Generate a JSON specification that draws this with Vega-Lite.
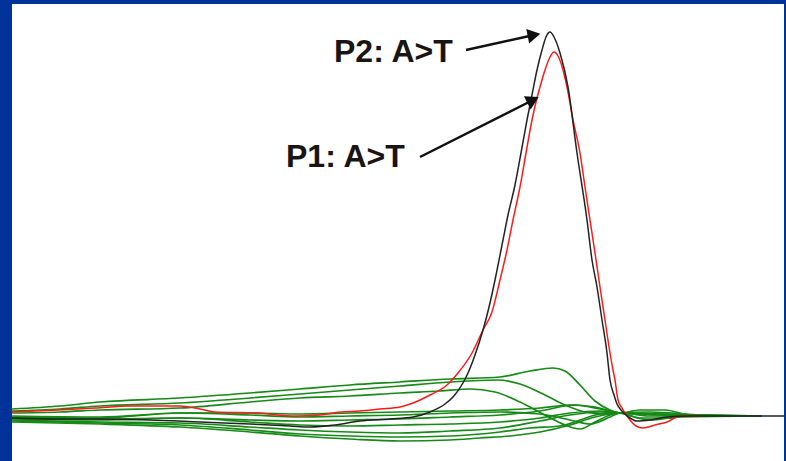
{
 "$schema": "https://vega.github.io/schema/vega-lite/v6.json",
 "width": 772,
 "height": 457,
 "autosize": {"type": "none"},
 "padding": {"left": 12, "top": 4, "right": 2, "bottom": 0},
 "background": "#003399",
 "config": {"view": {"fill": "white", "stroke": null}},
 "datasets": {
  "traces": [
   {"trace":"G1","x":12,"y":6},{"trace":"G1","x":60,"y":9},{"trace":"G1","x":100,"y":13},{"trace":"G1","x":180,"y":17},{"trace":"G1","x":250,"y":22},{"trace":"G1","x":300,"y":26},{"trace":"G1","x":350,"y":30},{"trace":"G1","x":400,"y":33},{"trace":"G1","x":450,"y":36},{"trace":"G1","x":500,"y":38},{"trace":"G1","x":530,"y":44},{"trace":"G1","x":553,"y":47},{"trace":"G1","x":565,"y":44},{"trace":"G1","x":580,"y":30},{"trace":"G1","x":595,"y":14},{"trace":"G1","x":610,"y":5},{"trace":"G1","x":620,"y":2},{"trace":"G1","x":640,"y":5},{"trace":"G1","x":665,"y":5},{"trace":"G1","x":690,"y":0},{"trace":"G1","x":762,"y":-1},
   {"trace":"G2","x":12,"y":4},{"trace":"G2","x":60,"y":6},{"trace":"G2","x":100,"y":9},{"trace":"G2","x":180,"y":12},{"trace":"G2","x":250,"y":17},{"trace":"G2","x":300,"y":21},{"trace":"G2","x":350,"y":25},{"trace":"G2","x":400,"y":29},{"trace":"G2","x":450,"y":33},{"trace":"G2","x":497,"y":35},{"trace":"G2","x":520,"y":31},{"trace":"G2","x":545,"y":20},{"trace":"G2","x":565,"y":10},{"trace":"G2","x":585,"y":3},{"trace":"G2","x":605,"y":1},{"trace":"G2","x":620,"y":2},{"trace":"G2","x":640,"y":-3},{"trace":"G2","x":670,"y":-3},{"trace":"G2","x":690,"y":0},{"trace":"G2","x":762,"y":-1},
   {"trace":"G3","x":12,"y":2},{"trace":"G3","x":60,"y":3},{"trace":"G3","x":100,"y":5},{"trace":"G3","x":180,"y":7},{"trace":"G3","x":250,"y":13},{"trace":"G3","x":300,"y":17},{"trace":"G3","x":350,"y":19},{"trace":"G3","x":400,"y":22},{"trace":"G3","x":440,"y":24},{"trace":"G3","x":470,"y":26},{"trace":"G3","x":495,"y":23},{"trace":"G3","x":520,"y":13},{"trace":"G3","x":545,"y":0},{"trace":"G3","x":565,"y":-10},{"trace":"G3","x":580,"y":-14},{"trace":"G3","x":595,"y":-7},{"trace":"G3","x":610,"y":0},{"trace":"G3","x":620,"y":2},{"trace":"G3","x":650,"y":-1},{"trace":"G3","x":762,"y":-1},
   {"trace":"G4","x":12,"y":-1},{"trace":"G4","x":100,"y":-2},{"trace":"G4","x":180,"y":2},{"trace":"G4","x":250,"y":2},{"trace":"G4","x":300,"y":1},{"trace":"G4","x":350,"y":2},{"trace":"G4","x":400,"y":3},{"trace":"G4","x":450,"y":4},{"trace":"G4","x":500,"y":5},{"trace":"G4","x":540,"y":7},{"trace":"G4","x":570,"y":10},{"trace":"G4","x":595,"y":8},{"trace":"G4","x":620,"y":2},{"trace":"G4","x":660,"y":1},{"trace":"G4","x":762,"y":-1},
   {"trace":"G5","x":12,"y":-2},{"trace":"G5","x":100,"y":-3},{"trace":"G5","x":180,"y":2},{"trace":"G5","x":250,"y":0},{"trace":"G5","x":300,"y":-2},{"trace":"G5","x":350,"y":-1},{"trace":"G5","x":400,"y":0},{"trace":"G5","x":450,"y":2},{"trace":"G5","x":500,"y":3},{"trace":"G5","x":540,"y":1},{"trace":"G5","x":570,"y":-5},{"trace":"G5","x":590,"y":-9},{"trace":"G5","x":610,"y":-2},{"trace":"G5","x":620,"y":2},{"trace":"G5","x":650,"y":3},{"trace":"G5","x":700,"y":0},{"trace":"G5","x":762,"y":-1},
   {"trace":"G6","x":12,"y":-3},{"trace":"G6","x":100,"y":-4},{"trace":"G6","x":180,"y":-3},{"trace":"G6","x":250,"y":-5},{"trace":"G6","x":300,"y":-6},{"trace":"G6","x":350,"y":-5},{"trace":"G6","x":400,"y":-4},{"trace":"G6","x":450,"y":-2},{"trace":"G6","x":500,"y":0},{"trace":"G6","x":540,"y":4},{"trace":"G6","x":575,"y":10},{"trace":"G6","x":600,"y":6},{"trace":"G6","x":620,"y":2},{"trace":"G6","x":650,"y":-5},{"trace":"G6","x":680,"y":-2},{"trace":"G6","x":762,"y":-1},
   {"trace":"G7","x":12,"y":-4},{"trace":"G7","x":100,"y":-5},{"trace":"G7","x":180,"y":-3},{"trace":"G7","x":250,"y":-7},{"trace":"G7","x":300,"y":-10},{"trace":"G7","x":350,"y":-11},{"trace":"G7","x":400,"y":-10},{"trace":"G7","x":450,"y":-9},{"trace":"G7","x":500,"y":-7},{"trace":"G7","x":540,"y":-3},{"trace":"G7","x":570,"y":2},{"trace":"G7","x":600,"y":4},{"trace":"G7","x":620,"y":2},{"trace":"G7","x":700,"y":-1},
   {"trace":"G8","x":12,"y":-5},{"trace":"G8","x":100,"y":-7},{"trace":"G8","x":180,"y":-8},{"trace":"G8","x":250,"y":-12},{"trace":"G8","x":300,"y":-15},{"trace":"G8","x":350,"y":-17},{"trace":"G8","x":400,"y":-18},{"trace":"G8","x":450,"y":-16},{"trace":"G8","x":500,"y":-13},{"trace":"G8","x":540,"y":-6},{"trace":"G8","x":570,"y":0},{"trace":"G8","x":600,"y":3},{"trace":"G8","x":620,"y":2},{"trace":"G8","x":700,"y":-1},
   {"trace":"G9","x":12,"y":-6},{"trace":"G9","x":100,"y":-8},{"trace":"G9","x":180,"y":-10},{"trace":"G9","x":250,"y":-15},{"trace":"G9","x":300,"y":-19},{"trace":"G9","x":350,"y":-21},{"trace":"G9","x":400,"y":-22},{"trace":"G9","x":450,"y":-21},{"trace":"G9","x":500,"y":-17},{"trace":"G9","x":530,"y":-13},{"trace":"G9","x":560,"y":-11},{"trace":"G9","x":580,"y":-5},{"trace":"G9","x":600,"y":1},{"trace":"G9","x":620,"y":2},{"trace":"G9","x":700,"y":-1},
   {"trace":"G10","x":12,"y":-7},{"trace":"G10","x":100,"y":-9},{"trace":"G10","x":180,"y":-12},{"trace":"G10","x":250,"y":-17},{"trace":"G10","x":300,"y":-21},{"trace":"G10","x":350,"y":-24},{"trace":"G10","x":400,"y":-26},{"trace":"G10","x":450,"y":-25},{"trace":"G10","x":480,"y":-23},{"trace":"G10","x":510,"y":-21},{"trace":"G10","x":540,"y":-17},{"trace":"G10","x":570,"y":-10},{"trace":"G10","x":595,"y":-2},{"trace":"G10","x":620,"y":2},{"trace":"G10","x":700,"y":-1},
   {"trace":"P1","x":12,"y":3},{"trace":"P1","x":58,"y":5},{"trace":"P1","x":95,"y":7},{"trace":"P1","x":130,"y":9},{"trace":"P1","x":180,"y":9},{"trace":"P1","x":200,"y":6},{"trace":"P1","x":215,"y":3},{"trace":"P1","x":257,"y":2},{"trace":"P1","x":295,"y":-1},{"trace":"P1","x":320,"y":0},{"trace":"P1","x":340,"y":3},{"trace":"P1","x":360,"y":4},{"trace":"P1","x":380,"y":6},{"trace":"P1","x":400,"y":8},{"trace":"P1","x":413,"y":12},{"trace":"P1","x":430,"y":20},{"trace":"P1","x":447,"y":30},{"trace":"P1","x":458,"y":42},{"trace":"P1","x":472,"y":62},{"trace":"P1","x":483,"y":85},{"trace":"P1","x":492,"y":103},{"trace":"P1","x":500,"y":135},{"trace":"P1","x":507,"y":165},{"trace":"P1","x":513,"y":195},{"trace":"P1","x":520,"y":228},{"trace":"P1","x":526,"y":262},{"trace":"P1","x":532,"y":295},{"trace":"P1","x":537,"y":317},{"trace":"P1","x":540,"y":328},{"trace":"P1","x":545,"y":345},{"trace":"P1","x":550,"y":358},{"trace":"P1","x":554,"y":363},{"trace":"P1","x":558,"y":359},{"trace":"P1","x":567,"y":328},{"trace":"P1","x":573,"y":295},{"trace":"P1","x":580,"y":262},{"trace":"P1","x":585,"y":228},{"trace":"P1","x":590,"y":195},{"trace":"P1","x":595,"y":162},{"trace":"P1","x":600,"y":128},{"trace":"P1","x":605,"y":95},{"trace":"P1","x":610,"y":62},{"trace":"P1","x":613,"y":45},{"trace":"P1","x":615,"y":35},{"trace":"P1","x":618,"y":15},{"trace":"P1","x":622,"y":7},{"trace":"P1","x":625,"y":2},{"trace":"P1","x":630,"y":-5},{"trace":"P1","x":636,"y":-11},{"trace":"P1","x":643,"y":-13},{"trace":"P1","x":655,"y":-10},{"trace":"P1","x":667,"y":-7},{"trace":"P1","x":680,"y":-1},{"trace":"P1","x":700,"y":-1},
   {"trace":"P2","x":12,"y":-3},{"trace":"P2","x":60,"y":-4},{"trace":"P2","x":100,"y":-4},{"trace":"P2","x":150,"y":-5},{"trace":"P2","x":200,"y":-7},{"trace":"P2","x":250,"y":-9},{"trace":"P2","x":290,"y":-11},{"trace":"P2","x":310,"y":-12},{"trace":"P2","x":335,"y":-10},{"trace":"P2","x":360,"y":-6},{"trace":"P2","x":390,"y":-4},{"trace":"P2","x":413,"y":-2},{"trace":"P2","x":430,"y":3},{"trace":"P2","x":445,"y":11},{"trace":"P2","x":453,"y":18},{"trace":"P2","x":463,"y":32},{"trace":"P2","x":468,"y":42},{"trace":"P2","x":475,"y":60},{"trace":"P2","x":483,"y":85},{"trace":"P2","x":490,"y":112},{"trace":"P2","x":495,"y":135},{"trace":"P2","x":503,"y":175},{"trace":"P2","x":508,"y":200},{"trace":"P2","x":515,"y":230},{"trace":"P2","x":521,"y":262},{"trace":"P2","x":527,"y":295},{"trace":"P2","x":532,"y":320},{"trace":"P2","x":537,"y":345},{"trace":"P2","x":542,"y":365},{"trace":"P2","x":546,"y":378},{"trace":"P2","x":550,"y":383},{"trace":"P2","x":554,"y":378},{"trace":"P2","x":560,"y":362},{"trace":"P2","x":568,"y":328},{"trace":"P2","x":577,"y":262},{"trace":"P2","x":587,"y":195},{"trace":"P2","x":592,"y":155},{"trace":"P2","x":597,"y":128},{"trace":"P2","x":602,"y":95},{"trace":"P2","x":607,"y":62},{"trace":"P2","x":610,"y":35},{"trace":"P2","x":614,"y":20},{"trace":"P2","x":617,"y":11},{"trace":"P2","x":621,"y":5},{"trace":"P2","x":625,"y":1},{"trace":"P2","x":630,"y":-3},{"trace":"P2","x":637,"y":-6},{"trace":"P2","x":650,"y":-5},{"trace":"P2","x":667,"y":-2},{"trace":"P2","x":690,"y":-1},{"trace":"P2","x":784,"y":-1}
  ],
  "notes": [
   {"label": "P2: A>T", "tx": 334, "ty": 353, "x": 466, "y": 365, "x2": 534, "y2": 380},
   {"label": "P1: A>T", "tx": 286, "ty": 248, "x": 420, "y": 258, "x2": 533, "y2": 315}
  ]
 },
 "layer": [
  {
   "data": {"name": "traces"},
   "transform": [{"filter": "indexof(datum.trace, 'G') === 0"}],
   "mark": {"type": "line", "interpolate": "monotone", "color": "#168a16", "strokeWidth": 1.7, "clip": true},
   "encoding": {
    "x": {"field": "x", "type": "quantitative", "scale": {"domain": [12, 784], "nice": false, "zero": false}, "axis": null},
    "y": {"field": "y", "type": "quantitative", "scale": {"domain": [-46, 411], "nice": false, "zero": false}, "axis": null},
    "detail": {"field": "trace"}
   }
  },
  {
   "data": {"name": "traces"},
   "transform": [{"filter": "datum.trace === 'P1'"}],
   "mark": {"type": "line", "interpolate": "monotone", "color": "#ff1a1a", "strokeWidth": 1.5, "clip": true},
   "encoding": {
    "x": {"field": "x", "type": "quantitative", "scale": {"domain": [12, 784], "nice": false, "zero": false}, "axis": null},
    "y": {"field": "y", "type": "quantitative", "scale": {"domain": [-46, 411], "nice": false, "zero": false}, "axis": null}
   }
  },
  {
   "data": {"name": "traces"},
   "transform": [{"filter": "datum.trace === 'P2'"}],
   "mark": {"type": "line", "interpolate": "monotone", "color": "#222222", "strokeWidth": 1.5, "clip": true},
   "encoding": {
    "x": {"field": "x", "type": "quantitative", "scale": {"domain": [12, 784], "nice": false, "zero": false}, "axis": null},
    "y": {"field": "y", "type": "quantitative", "scale": {"domain": [-46, 411], "nice": false, "zero": false}, "axis": null}
   }
  },
  {
   "data": {"name": "notes"},
   "mark": {"type": "rule", "color": "#111111", "strokeWidth": 2.5},
   "encoding": {
    "x": {"field": "x", "type": "quantitative"},
    "y": {"field": "y", "type": "quantitative"},
    "x2": {"field": "x2"},
    "y2": {"field": "y2"}
   }
  },
  {
   "data": {"name": "notes"},
   "transform": [{"filter": "datum.label === 'P2: A>T'"}],
   "mark": {"type": "point", "shape": "triangle-up", "filled": true, "color": "#111111", "opacity": 1, "size": 220, "angle": 79},
   "encoding": {
    "x": {"field": "x2", "type": "quantitative"},
    "y": {"field": "y2", "type": "quantitative"}
   }
  },
  {
   "data": {"name": "notes"},
   "transform": [{"filter": "datum.label === 'P1: A>T'"}],
   "mark": {"type": "point", "shape": "triangle-up", "filled": true, "color": "#111111", "opacity": 1, "size": 220, "angle": 63},
   "encoding": {
    "x": {"field": "x2", "type": "quantitative"},
    "y": {"field": "y2", "type": "quantitative"}
   }
  },
  {
   "data": {"name": "notes"},
   "mark": {"type": "text", "align": "left", "baseline": "alphabetic", "font": "Liberation Sans", "fontWeight": "bold", "fontSize": 32, "color": "#1a1412"},
   "encoding": {
    "x": {"field": "tx", "type": "quantitative"},
    "y": {"field": "ty", "type": "quantitative"},
    "text": {"field": "label"}
   }
  }
 ]
}
